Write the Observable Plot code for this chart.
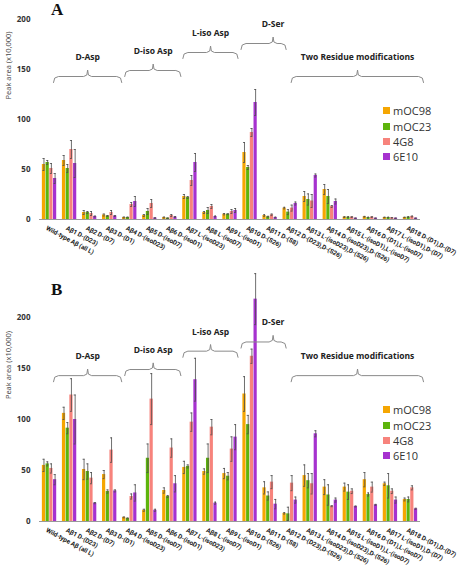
<!DOCTYPE html>
<html>
<head>
<meta charset="utf-8">
<script src="https://cdn.jsdelivr.net/npm/d3@7"></script>
<script src="https://cdn.jsdelivr.net/npm/@observablehq/plot@0.6"></script>
<style>
  body { margin: 0; background: #fff; }
  #fig { position: relative; width: 467px; height: 567px; font-family: "Open Sans", sans-serif; overflow: hidden; }
  .panel { position: absolute; left: 0; overflow: visible; }
  .panel g[font-family^="Roboto"] text { letter-spacing: -0.1px; }
  .letter { position: absolute; font-family: "Liberation Serif", serif; font-weight: bold; font-size: 17px; line-height: 1; color: #111; }
  .legend { position: absolute; font-size: 11px; color: #333; }
  .legend .item { display: flex; align-items: center; height: 15.4px; }
  .legend .sw { width: 7px; height: 7px; margin-right: 3px; }
</style>
</head>
<body>
<div id="fig"></div>
<script>
// Peptide variants (x categories)
const categories = [
  "Wild-type Aβ (all L)", "Aβ1 D-(D23)", "Aβ2 D-(D7)", "Aβ3 D-(D1)",
  "Aβ4 D-(isoD23)", "Aβ5 D-(isoD7)", "Aβ6 D-(isoD1)",
  "Aβ7 L-(isoD23)", "Aβ8 L-(isoD7)", "Aβ9 L-(isoD1)",
  "Aβ10 D-(S26)", "Aβ11 D-(S8)",
  "Aβ12 D-(D23),D-(S26)", "Aβ13 L-(isoD23),D-(S26)", "Aβ14 D-(isoD23),D-(S26)",
  "Aβ15 L-(isoD1),L-(isoD7)", "Aβ16 D-(D1),L-(isoD7)", "Aβ17 L-(isoD1),D-(D7)",
  "Aβ18 D-(D1),D-(D7)"
];

// Antibodies
const series = ["mOC98", "mOC23", "4G8", "6E10"];
const colors = ["#f5a602", "#5db40c", "#f7837c", "#a632cf"];

// Modification groups: first and last peptide of each
const groupNames = ["D-Asp", "D-iso Asp", "L-iso Asp", "D-Ser", "Two Residue modifications"];
const groupFirst = ["Aβ1 D-(D23)", "Aβ4 D-(isoD23)", "Aβ7 L-(isoD23)", "Aβ10 D-(S26)", "Aβ12 D-(D23),D-(S26)"];
const groupLast  = ["Aβ3 D-(D1)", "Aβ6 D-(isoD1)", "Aβ9 L-(isoD1)", "Aβ11 D-(S8)", "Aβ18 D-(D1),D-(D7)"];

const yTicks = [0, 50, 100, 150, 200];

// Panel A: peak area (x10,000), means and error
const aMOC98 = [55, 59, 7, 4.5, 2, 4, 2, 23, 7, 5.3, 67, 4, 11.4, 23, 30, 2.4, 2.7, 2, 2];
const aMOC98Err = [6, 5, 2, 1, 0.5, 1, 0.5, 2, 1, 0.7, 10, 0.8, 0.8, 5, 5, 0.4, 0.4, 0.3, 0.3];
const aMOC23 = [57, 51, 7, 3.5, 2, 8, 1.3, 22, 9, 5.3, 52, 2.7, 7.4, 20, 23, 2.4, 2, 2, 2.4];
const aMOC23Err = [2, 4, 1, 0.5, 0.4, 3, 0.3, 1, 3, 0.5, 2, 0.5, 2.5, 5.6, 7, 0.4, 0.3, 0.3, 0.4];
const a4G8 = [51, 70, 6, 7, 15, 16, 4, 39, 13, 8, 87, 4.7, 11.4, 18.5, 13, 2.4, 2.4, 1.7, 3];
const a4G8Err = [5, 9, 2, 2, 2, 4, 1, 5, 2, 2, 4, 0.8, 3, 6.5, 1, 0.4, 0.4, 0.3, 0.5];
const a6E10 = [41, 56, 3, 3.5, 18, 1.5, 2.5, 57, 3, 9, 117, 2, 16, 44, 18, 1.3, 1.3, 1.3, 1.3];
const a6E10Err = [5, 14, 0.5, 0.5, 5, 0.3, 0.5, 9, 0.5, 2, 13, 0.4, 1.5, 1.5, 2.5, 0.2, 0.2, 0.2, 0.2];

// Panel B: peak area (x10,000), means and error
const bMOC98 = [55, 106, 51, 46, 4, 11, 30.4, 53, 49, 47, 125, 33, 8, 45, 33.7, 33.7, 41, 37, 21.6];
const bMOC98Err = [6, 6, 10, 4, 0.5, 1, 2.6, 6, 2.6, 5, 17, 6, 0.7, 10.5, 7.3, 3.9, 7, 1.6, 1.4];
const bMOC23 = [56.5, 91.5, 49, 29.4, 3, 62, 24.5, 54, 62, 44.4, 95, 25, 7.5, 40, 26, 28.8, 26.5, 35, 21.6];
const bMOC23Err = [2, 5.5, 7.5, 1.6, 0.5, 14, 1, 1.5, 14, 3.6, 9, 4, 6.5, 7, 10, 7.2, 1.5, 12, 2.4];
const b4G8 = [52, 124, 42.5, 70, 24.5, 120, 72, 97.4, 92.5, 71, 162, 38.6, 37.6, 37, 15, 29.7, 33.7, 29.7, 33];
const b4G8Err = [4.5, 16, 5.5, 12, 2.5, 25, 9, 9, 7.5, 12, 7, 6.4, 7.4, 10, 0.5, 2.3, 4.9, 2.3, 2];
const b6E10 = [41, 100, 18, 30, 28, 11, 37, 139, 18, 82.7, 218, 17, 21, 86, 21, 14.7, 16.3, 21, 12.4];
const b6E10Err = [5, 24, 0.6, 1, 8, 1, 8, 21, 1, 12.3, 25, 4.6, 3, 3, 2, 0.5, 0.5, 3, 0.6];

// Layout of the group braces, in category units and y units
const braceLayout = [
  {from: 0.2, to: 3.6, tip: 1.9, level: 143},
  {from: 3.75, to: 6.55, tip: 5.17, level: 149},
  {from: 6.65, to: 9.4, tip: 8.03, level: 167},
  {from: 9.55, to: 11.8, tip: 11.15, level: 176},
  {from: 12.05, to: 18.65, tip: 15.36, level: 143}
];

const pitch = 0.185, barW = 0.16;

function rowsFor(means, errs) {
  return categories.flatMap((c, i) => series.map((s, j) => {
    const xc = i + (j - 1.5) * pitch;
    return {cat: c, s, xc, v: means[j][i], e: errs[j][i]};
  }));
}

const braces = groupNames.map((name, k) => {
  const L = braceLayout[k];
  return {name, a: L.from, b: L.to, h: L.level, m: L.tip,
          first: categories.indexOf(groupFirst[k]), last: categories.indexOf(groupLast[k])};
});
const bracePts = braces.flatMap(g => [
  [g.a, g.h - 6], [g.a + 0.06, g.h - 1.5], [g.a + 0.25, g.h],
  [g.m - 0.2, g.h], [g.m - 0.04, g.h + 1.5], [g.m, g.h + 6.5],
  [g.m + 0.04, g.h + 1.5], [g.m + 0.2, g.h],
  [g.b - 0.25, g.h], [g.b - 0.06, g.h - 1.5], [g.b, g.h - 6]
].map(([x, y]) => ({name: g.name, x, y})));

const catIndex = d3.range(categories.length);

function panel(means, errs, size) {
  const rows = rowsFor(means, errs);
  return Plot.plot({
    width: 467,
    height: size.height,
    marginTop: size.top,
    marginBottom: size.bottom,
    marginLeft: 39,
    marginRight: 47,
    style: {fontFamily: "'Open Sans', sans-serif", color: "#333", background: "transparent", overflow: "visible"},
    x: {domain: [-0.5, 18.5], axis: null},
    y: {domain: [0, 200], axis: null, label: null},
    color: {domain: series, range: colors},
    marks: [
      Plot.rectY(rows, {x1: d => d.xc - barW / 2, x2: d => d.xc + barW / 2, y: "v", fill: "s"}),
      Plot.ruleX(rows, {x: "xc", y1: d => Math.max(0, d.v - d.e), y2: d => d.v + d.e, stroke: "#4a4a4a", strokeWidth: 0.8}),
      Plot.ruleY(rows, {y: d => d.v + d.e, x1: d => d.xc - 0.05, x2: d => d.xc + 0.05, stroke: "#4a4a4a", strokeWidth: 0.8}),
      Plot.ruleY(rows, {y: d => Math.max(0, d.v - d.e), x1: d => d.xc - 0.05, x2: d => d.xc + 0.05, stroke: "#4a4a4a", strokeWidth: 0.8}),
      Plot.ruleY([0], {stroke: "#9a9a9a", strokeWidth: 1}),
      Plot.line(bracePts, {x: "x", y: "y", z: "name", stroke: "#8a8a8a", strokeWidth: 1}),
      Plot.text(braces, {x: "m", y: d => d.h + 19, text: "name", fontWeight: "bold", fontSize: 8.5, fill: "#222"}),
      Plot.text(["Peak area (x10,000)"], {frameAnchor: "left", y: 120, dx: -31, rotate: -90, fontSize: 7.5, fill: "#444"}),
      Plot.axisY(yTicks, {tickSize: 0, tickPadding: 9, fontWeight: "bold", fontSize: 8, label: null}),
      // slanted category labels under the baseline
      Plot.text(catIndex, {
        x: d => d, frameAnchor: "bottom", text: d => categories[d],
        rotate: 28, textAnchor: "start", lineAnchor: "top", dy: 6, dx: -2,
        fontSize: 6.4, fontWeight: "bold", fill: "#222",
        fontFamily: "Roboto, sans-serif"
      })
    ]
  });
}

const fig = document.getElementById("fig");

function place(node, top) {
  node.classList.add("panel");
  node.style.top = top + "px";
  fig.appendChild(node);
}

place(panel([aMOC98, aMOC23, a4G8, a6E10], [aMOC98Err, aMOC23Err, a4G8Err, a6E10Err], {height: 282, top: 19, bottom: 63}), 0);
place(panel([bMOC98, bMOC23, b4G8, b6E10], [bMOC98Err, bMOC23Err, b4G8Err, b6E10Err], {height: 285, top: 35, bottom: 46}), 282);

function letter(t, left, top) {
  const d = document.createElement("div");
  d.className = "letter";
  d.textContent = t;
  d.style.left = left + "px";
  d.style.top = top + "px";
  fig.appendChild(d);
}
letter("A", 51, 1);
letter("B", 51, 281);

function legend(left, top) {
  const d = document.createElement("div");
  d.className = "legend";
  d.style.left = left + "px";
  d.style.top = top + "px";
  series.forEach((s, j) => {
    const it = document.createElement("div");
    it.className = "item";
    const sw = document.createElement("span");
    sw.className = "sw";
    sw.style.background = colors[j];
    const tx = document.createElement("span");
    tx.textContent = s;
    it.appendChild(sw);
    it.appendChild(tx);
    d.appendChild(it);
  });
  fig.appendChild(d);
}
legend(383, 103);
legend(383, 402);
</script>
</body>
</html>
